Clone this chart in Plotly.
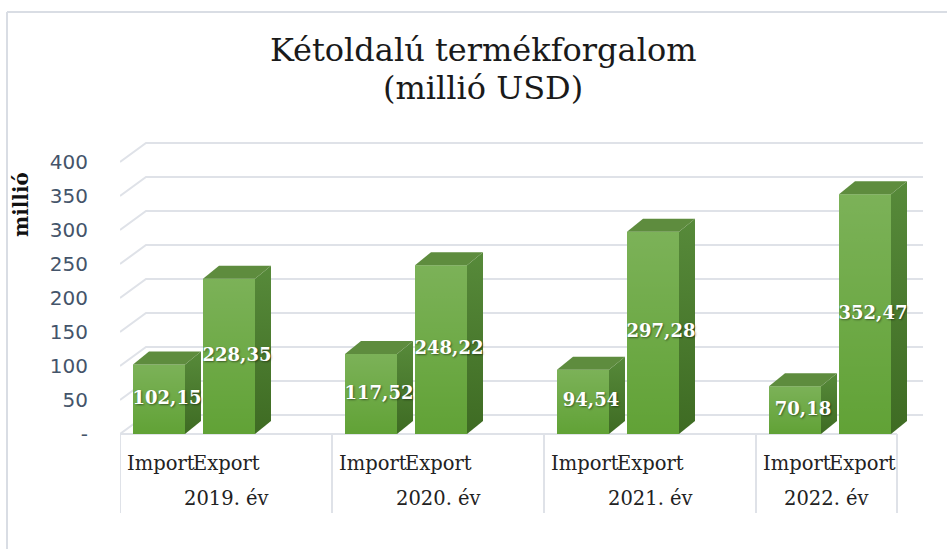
import plotly.graph_objects as go

# ---------------- data ----------------
years = ["2019. év", "2020. év", "2021. év", "2022. év"]
series_names = ["Import", "Export"]
import_vals = [102.15, 117.52, 94.54, 70.18]
export_vals = [228.35, 248.22, 297.28, 352.47]
y_tickvals = [0, 50, 100, 150, 200, 250, 300, 350, 400]
y_ticktext = ["-", "50", "100", "150", "200", "250", "300", "350", "400"]

# ---------------- layout geometry (pixels) ----------------
W, H = 947, 549
PX_L, PX_R = 120, 923
PX_TOP, PX_BOT = 130, 520
PX_ZERO = 434
GROUP_PX = 212.0
K = 0.68  # px per value unit

x_range = [0, (PX_R - PX_L) / GROUP_PX]
y_range = [-(PX_BOT - PX_ZERO) / K, (PX_ZERO - PX_TOP) / K]

def xu(px):  # pixel distance -> x units
    return px / GROUP_PX

def yu(px):  # pixel distance -> y units
    return px / K

def xp(px):  # absolute pixel -> x paper
    return (px - PX_L) / (PX_R - PX_L)

def yp(px):  # absolute pixel -> y paper
    return (PX_BOT - px) / (PX_BOT - PX_TOP)

bar_w = xu(52)
offsets = [xu(39), xu(109)]
bar_dx, bar_dy = xu(16), yu(13)
wall_dx, wall_dy = xu(26), yu(19)
front_right = xu(777)
box_bounds = [0, 1, 2, 3, front_right]
box_bottom = -yu(513 - PX_ZERO)

FRONT = "#61a236"
TOP = "#5e8c3e"
SIDE_SCALE = [[0, "#3e6b23"], [1, "#578a3a"]]
SHEEN = [[0, "rgba(255,255,255,0)"], [1, "rgba(255,255,255,0.17)"]]
GRID = "#dfe2e8"
SERIF = "DejaVu Serif"

fig = go.Figure()

for s, vals in enumerate([import_vals, export_vals]):
    xs = [i + offsets[s] for i in range(len(years))]
    fig.add_trace(go.Bar(
        x=xs, y=vals, width=bar_w, name=series_names[s],
        marker=dict(color=FRONT, line=dict(width=0)),
        hoverinfo="skip", showlegend=False))
    for x, v in zip(xs, vals):
        x0, x1 = x - bar_w / 2, x + bar_w / 2
        # light sheen on the front face (vertical gradient)
        fig.add_trace(go.Scatter(
            x=[x0, x1, x1, x0, x0], y=[0, 0, v, v, 0], fill="toself",
            mode="lines", line=dict(width=0),
            fillgradient=dict(type="vertical", colorscale=SHEEN),
            hoverinfo="skip", showlegend=False))
        # side face
        fig.add_trace(go.Scatter(
            x=[x1, x1, x1 + bar_dx, x1 + bar_dx, x1],
            y=[0, v, v + bar_dy, bar_dy, 0], fill="toself",
            mode="lines", line=dict(width=0),
            fillgradient=dict(type="vertical", colorscale=SIDE_SCALE),
            hoverinfo="skip", showlegend=False))
        # top face
        fig.add_trace(go.Scatter(
            x=[x0, x1, x1 + bar_dx, x0 + bar_dx, x0],
            y=[v, v, v + bar_dy, v + bar_dy, v], fill="toself",
            mode="lines", line=dict(width=0), fillcolor=TOP,
            hoverinfo="skip", showlegend=False))
    fig.add_trace(go.Scatter(
        x=[x + bar_dx / 2 for x in xs], y=[v / 2 for v in vals], mode="text",
        text=[f"{v:.2f}".replace(".", ",") for v in vals],
        textfont=dict(family=SERIF, size=18, color="white", weight="bold",
                      shadow="1px 1px 2px rgba(0,0,0,0.45)"),
        cliponaxis=False, hoverinfo="skip", showlegend=False))

shapes = []
for v in y_tickvals:
    shapes.append(dict(
        type="path", xref="x", yref="y", layer="below",
        path=f"M 0,{v} L {wall_dx},{v + wall_dy} L {x_range[1]},{v + wall_dy}",
        line=dict(color=GRID, width=2)))
shapes.append(dict(type="line", xref="x", yref="y", layer="below",
                   x0=0, y0=0, x1=front_right, y1=0,
                   line=dict(color=GRID, width=2)))
for b in box_bounds:
    shapes.append(dict(type="line", xref="x", yref="y", layer="below",
                       x0=b, y0=0, x1=b, y1=box_bottom,
                       line=dict(color=GRID, width=2)))
shapes.append(dict(type="line", xref="paper", yref="paper",
                   x0=xp(7), y0=yp(549), x1=xp(7), y1=yp(12),
                   line=dict(color="#d9dde4", width=2)))
shapes.append(dict(type="line", xref="paper", yref="paper",
                   x0=xp(7), y0=yp(12), x1=xp(947), y1=yp(12),
                   line=dict(color="#d9dde4", width=2)))

annotations = []
CAT_FONT = dict(family=SERIF, size=19.5, color="#222222")
for i in range(len(years)):
    mid = i + (offsets[0] + offsets[1]) / 2
    annotations.append(dict(
        x=mid, y=-yu(463 - PX_ZERO), xref="x", yref="y",
        text=series_names[0], showarrow=False, borderpad=0, xshift=2,
        xanchor="right", yanchor="middle", font=CAT_FONT))
    annotations.append(dict(
        x=mid, y=-yu(463 - PX_ZERO), xref="x", yref="y",
        text=series_names[1], showarrow=False, borderpad=0, xshift=-2,
        xanchor="left", yanchor="middle", font=CAT_FONT))
    annotations.append(dict(
        x=(box_bounds[i] + box_bounds[i + 1]) / 2, y=-yu(498 - PX_ZERO),
        xref="x", yref="y", text=years[i], showarrow=False,
        xanchor="center", yanchor="middle", font=CAT_FONT))

annotations.append(dict(
    x=xp(21), y=yp(205), xref="paper", yref="paper", text="millió",
    textangle=-90, showarrow=False, xanchor="center", yanchor="middle",
    font=dict(family=SERIF, size=20, color="#111111", weight="bold")))

TITLE_FONT = dict(family=SERIF, size=32, color="#1a1a1a")
annotations.append(dict(
    x=xp(483), y=yp(50), xref="paper", yref="paper",
    text="Kétoldalú termékforgalom", showarrow=False,
    xanchor="center", yanchor="middle", font=TITLE_FONT))
annotations.append(dict(
    x=xp(483), y=yp(88), xref="paper", yref="paper",
    text="(millió USD)", showarrow=False,
    xanchor="center", yanchor="middle", font=TITLE_FONT))

fig.update_layout(
    width=W, height=H,
    margin=dict(l=PX_L, r=W - PX_R, t=PX_TOP, b=H - PX_BOT, autoexpand=False),
    paper_bgcolor="white", plot_bgcolor="rgba(0,0,0,0)",
    barmode="overlay", showlegend=False,
    shapes=shapes, annotations=annotations,
    xaxis=dict(range=x_range, visible=False, fixedrange=True),
    yaxis=dict(range=y_range, tickvals=y_tickvals, ticktext=y_ticktext,
               ticks="outside", ticklen=27, tickcolor="rgba(0,0,0,0)",
               showgrid=False, zeroline=False, showline=False,
               tickfont=dict(family="DejaVu Sans", size=20, color="#44546a"),
               fixedrange=True),
)

fig.write_html(
    "out.html",
    config={"displayModeBar": False},
    post_script="document.body.style.margin='0';document.body.style.overflow='hidden';",
)
